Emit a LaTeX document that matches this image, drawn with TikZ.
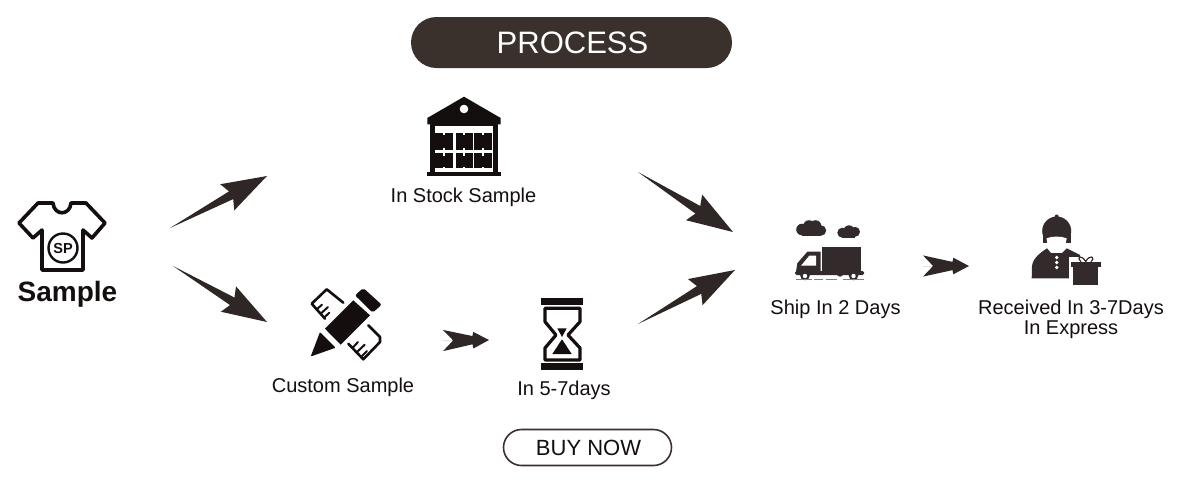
\documentclass[tikz,border=0pt]{standalone}
\usepackage{fontspec}
\setmainfont{Liberation Sans}
\usetikzlibrary{calc}
\definecolor{darkbrown}{HTML}{3A302C}
\definecolor{arrowbrown}{HTML}{2F2725}
\definecolor{iconbrown}{HTML}{332B2B}
\definecolor{inkblack}{HTML}{140F0E}
\newcommand{\fatpt}[2]{($(\tikztostart)!#1!(\tikztotarget)+(\tikztostart)!#2!90:(\tikztotarget)-(\tikztostart)$)}
\tikzset{
	label/.style={font=\fontsize{20}{20}\selectfont,text=inkblack,inner sep=0pt,align=center},
	icon/.style={fill=inkblack,draw=none},
	softicon/.style={fill=iconbrown,draw=none},
	longarrow/.style={fill=arrowbrown,to path={-- \fatpt{.63}{-.04} -- \fatpt{.59}{-.135} -- (\tikztotarget) -- \fatpt{.59}{.135} -- \fatpt{.63}{.04} -- cycle}},
	shortarrow/.style={fill=arrowbrown,to path={-- \fatpt{.22}{0} -- \fatpt{0}{.23} -- \fatpt{.64}{.09} -- \fatpt{.66}{.18} -- (\tikztotarget) -- \fatpt{.66}{-.18} -- \fatpt{.64}{-.09} -- \fatpt{0}{-.23} -- \fatpt{.22}{0} -- cycle}},
}
\begin{document}
\begin{tikzpicture}[line join=round,line cap=round,x=1pt,y=-1pt]
	\useasboundingbox (0,0) rectangle (1200,483);
	\fill[white] (0,0) rectangle (1200,483);
	% headline and button
	\node[fill=darkbrown,rounded corners=25.5pt,minimum width=321pt,minimum height=51pt,inner sep=0pt,text=white,font=\fontsize{31}{32}\selectfont] (process) at (571.5,42.5) {\hspace{2pt}PROCESS};
	\node[draw=darkbrown,line width=1.6pt,rounded corners=18pt,minimum width=168pt,minimum height=36pt,inner sep=0pt,text=inkblack,font=\fontsize{22}{26}\selectfont] (buynow) at (587.5,447.5) {\hspace{2pt}BUY NOW};
	% labels
	\node[font=\fontsize{28}{32}\bfseries\selectfont,text=inkblack,inner sep=0pt] (sample) at (67.5,294.5) {Sample};
	\node[label] (stock) at (463.5,197.5) {In Stock Sample};
	\node[label] (custom) at (343,387.5) {Custom Sample};
	\node[label] (days) at (564,390.5) {In 5-7days};
	\node[label] (ship) at (835.5,309.5) {Ship In 2 Days};
	\node[label] (received) at (1071,319) {Received In 3-7Days\\In Express};
	% arrows
	\coordinate (a1) at (170,228);
	\coordinate (a2) at (267,176);
	\coordinate (b1) at (173,266);
	\coordinate (b2) at (267,322);
	\coordinate (c1) at (638,172);
	\coordinate (c2) at (733,232);
	\coordinate (d1) at (638,324);
	\coordinate (d2) at (735,270);
	\coordinate (e1) at (443,340.5);
	\coordinate (e2) at (489,340);
	\coordinate (f1) at (923,266);
	\coordinate (f2) at (969,266);
	\path[longarrow] (a1) to (a2);
	\path[longarrow] (b1) to (b2);
	\path[longarrow] (c1) to (c2);
	\path[longarrow] (d1) to (d2);
	\path[shortarrow] (e1) to (e2);
	\path[shortarrow] (f1) to (f2);
	% shirt
	\draw[draw=inkblack,line width=3.6pt] (38,203)--(53,203) .. controls (54,216) and (70,216) .. (71,203)--(86,203)--(105,223)--(92,238)--(83,230)--(83,270)--(42,270)--(42,230)--(33,238)--(19,223)--cycle;
	\draw[draw=inkblack,line width=2.4pt] (63,248) circle (14.5);
	\node[font=\fontsize{14.5}{16}\bfseries\selectfont,text=inkblack,inner sep=0pt] (sp) at (63,248.5) {SP};
	% warehouse
	\fill[icon] (464,96.7)--(500.7,118)--(500.7,124.3)--(427.3,124.3)--(427.3,118)--cycle;
	\fill[white] (464,109) circle (4.3);
	\fill[icon] (430,124) rectangle (498.3,173);
	\fill[icon] (426.7,171.7) rectangle (501,175.5);
	\fill[white] (435,126) rectangle (493,171.7);
	\foreach \xa/\xb in {435/453.3,455.7/472.7,474.3/491.7}{
		\fill[icon] (\xa,132.7) rectangle (\xb,150);
		\fill[icon] (\xa,153.3) rectangle (\xb,168.3);
		\fill[white] ({(\xa+\xb)/2-.9},132) rectangle ({(\xa+\xb)/2+.9},135);
		\fill[white] ({(\xa+\xb)/2-.9},148) rectangle ({(\xa+\xb)/2+.9},155.5);
		\fill[white] ({(\xa+\xb)/2-.9},166.5) rectangle ({(\xa+\xb)/2+.9},169);
	}
	% pencil and rulers
	\fill[icon] (325,328.7)--(353.3,300.3)--(370,315.3)--(340.7,344.7)--cycle;
	\fill[icon,rounded corners=2pt] (355,295.3)--(363.3,288)--(381.7,304.7)--(372.7,312.7)--cycle;
	\fill[icon,rounded corners=1pt] (320,332)--(335.7,347.7)--(310.7,356.5)--cycle;
	\draw[draw=inkblack,line width=2.6pt] (325,318.7)--(311.7,303.7)--(326.7,289.3)--(343.3,302.7);
	\draw[draw=inkblack,line width=2.6pt] (348.3,343.7)--(363.3,359.3)--(380,342)--(380,337)--(368.3,325.3);
	\draw[draw=inkblack,line width=2pt] (316.7,309.3)--(322,304.7) (320.7,313.7)--(328,307) (324,317.7)--(329.3,312.7);
	\draw[draw=inkblack,line width=2pt] (352.7,347.7)--(358,342) (357,352)--(364.7,344.7) (361,357)--(367,351);
	% hourglass
	\fill[icon] (540.7,298.3) rectangle (583.3,305);
	\fill[icon] (540.7,363.3) rectangle (583.3,370);
	\draw[draw=inkblack,line width=3.2pt] (545,308.3)--(580,308.3)--(580,321.7)--(568,335)--(580,348)--(580,360)--(545,360)--(545,348)--(556,335)--(545,321.7)--cycle;
	\fill[icon] (557.3,328.3)--(566.7,328.3)--(562,337)--cycle;
	\fill[icon] (562,339.3)--(571.7,354)--(552.3,354)--cycle;
	% truck
	\foreach \x/\y/\r in {802/229.5/5.8,809/226/5.8,815.5/226/5.8,821/230.5/5.2,842.3/232.7/5,849/231/5.7,855/231.8/5}
	\fill[softicon] (\x,\y) circle (\r);
	\fill[softicon] (802,229) rectangle (821,235.7);
	\fill[softicon] (842.3,231) rectangle (855,237.7);
	\fill[softicon] (822.3,247.3) rectangle (860.7,271.7);
	\fill[softicon] (807.3,251.7)--(820.7,251.7)--(820.7,272)--(796,272)--(797.3,263.3)--cycle;
	\fill[white] (801,265.7)--(809.3,255.7)--(816,255.7)--(816,265.7)--cycle;
	\fill[softicon,rounded corners=1.5pt] (795,271) rectangle (864,275);
	\foreach \x in {805,853.5}{
		\fill[softicon] (\x,275.5) circle (4.8);
		\fill[white] (\x,276) circle (2.2);
	}
	\fill[softicon] (840,273.5) circle (3.2);
	\foreach \xa/\xb in {796/811.7,814.3/823.3,825.7/836.7,843.3/864}
	\draw[draw=iconbrown!60,line width=1.2pt,line cap=butt] (\xa,279.5)--(\xb,279.5);
	% courier
	\fill[softicon] (1056.7,216.5) circle (2);
	\fill[softicon] (1056.7,231) circle (14.5);
	\fill[softicon] (1043,232) rectangle (1070.5,243);
	\fill[softicon] (1031.7,278.3)--(1032,266) .. controls (1033,258) and (1040,253) .. (1047,248.3)--(1051,253)--(1062,253)--(1066.7,248.3)--(1080,255)--(1080,278.3)--cycle;
	\fill[white] (1046.5,238.3) .. controls (1052,236) and (1061,236) .. (1066.7,238.3) .. controls (1067,245) and (1060,252) .. (1056.7,252) .. controls (1053,252) and (1046,245) .. (1046.5,238.3) -- cycle;
	\foreach \y in {257.5,262.5,267.5}
	\fill[white] (1056.7,\y) circle (1.8);
	\fill[white] (1068.5,257) rectangle (1103,287);
	\fill[softicon] (1070.7,261.7) rectangle (1101,266.7);
	\fill[softicon] (1073.3,266.7) rectangle (1097.7,285);
	\draw[draw=iconbrown,line width=1.2pt] (1085.7,261.5) .. controls (1081,254) and (1076,257) .. (1081,261.5) (1085.7,261.5) .. controls (1090,254) and (1096,257) .. (1091,261.5);
\end{tikzpicture}
\end{document}
